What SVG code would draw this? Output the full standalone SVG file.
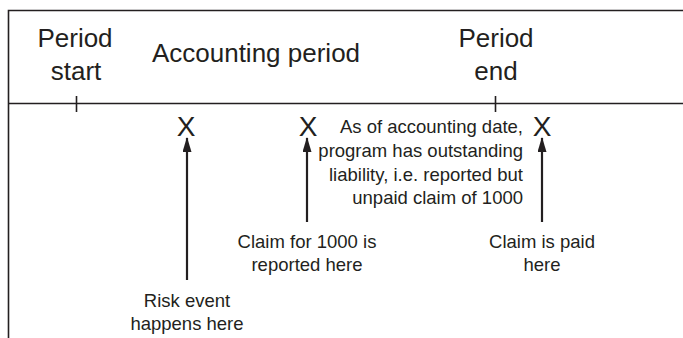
<svg xmlns="http://www.w3.org/2000/svg" width="683" height="338" viewBox="0 0 683 338">
<style>
.h{font-family:"Liberation Sans",Arial,sans-serif;font-size:26px;fill:#231f20;text-anchor:middle}
.t{font-family:"Liberation Sans",Arial,sans-serif;font-size:18.5px;fill:#231f20}
.x{font-family:"Liberation Sans",Arial,sans-serif;font-size:28px;fill:#231f20;text-anchor:middle}
.l{stroke:#231f20;stroke-width:1.6;fill:none}
.a{stroke:#231f20;stroke-width:2.2;fill:none}
</style>
<defs>
<marker id="ah" markerWidth="15" markerHeight="9" refX="14" refY="4.5" orient="auto" markerUnits="userSpaceOnUse" viewBox="0 0 15 9">
<path d="M0,0 L15,4.5 L0,9 Z" fill="#231f20"/>
</marker>
</defs>
<rect width="683" height="338" fill="#fff"/>
<g id="frame">
<path class="l" d="M8.5,338 V10.5 H683"/>
</g>
<g id="timeline">
<line class="l" x1="8" y1="103.5" x2="683" y2="103.5"/>
<line class="l" x1="76.5" y1="96" x2="76.5" y2="112"/>
<line class="l" x1="495.5" y1="96" x2="495.5" y2="112"/>
</g>
<g id="period-start">
<text class="h" x="75" y="47">Period</text>
<text class="h" x="76" y="80">start</text>
</g>
<g id="accounting-period">
<text class="h" x="256" y="62">Accounting period</text>
</g>
<g id="period-end">
<text class="h" x="496" y="47">Period</text>
<text class="h" x="496" y="80">end</text>
</g>
<g id="risk-event">
<text class="x" x="186" y="136">X</text>
<text class="t" x="187" y="307" text-anchor="middle">Risk event</text>
<text class="t" x="187" y="330" text-anchor="middle">happens here</text>
</g>
<g id="claim-reported">
<text class="x" x="308" y="136">X</text>
<text class="t" x="307" y="248" text-anchor="middle">Claim for 1000 is</text>
<text class="t" x="307" y="271" text-anchor="middle">reported here</text>
</g>
<g id="outstanding-note">
<text class="t" x="523" y="133" text-anchor="end">As of accounting date,</text>
<text class="t" x="523" y="157" text-anchor="end">program has outstanding</text>
<text class="t" x="523" y="181" text-anchor="end">liability, i.e. reported but</text>
<text class="t" x="523" y="204" text-anchor="end">unpaid claim of 1000</text>
</g>
<g id="claim-paid">
<text class="x" x="542" y="136">X</text>
<text class="t" x="542" y="248" text-anchor="middle">Claim is paid</text>
<text class="t" x="542" y="271" text-anchor="middle">here</text>
</g>
<g id="connectors">
<line class="a" x1="187" y1="280" x2="187" y2="138" marker-end="url(#ah)"/>
<line class="a" x1="307" y1="222" x2="307" y2="138" marker-end="url(#ah)"/>
<line class="a" x1="542" y1="222" x2="542" y2="138" marker-end="url(#ah)"/>
</g>
</svg>
